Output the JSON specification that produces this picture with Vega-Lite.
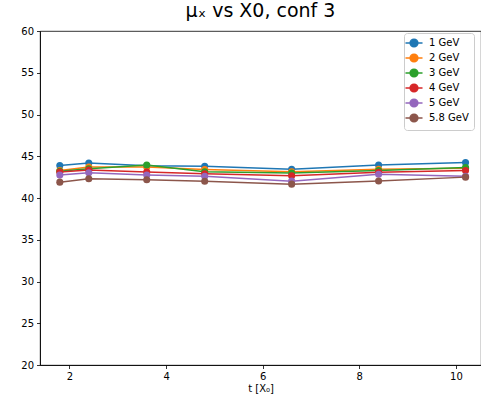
{
  "$schema": "https://vega.github.io/schema/vega-lite/v6.json",
  "autosize": "none",
  "width": 441,
  "height": 334,
  "padding": {"left": 40, "top": 31, "right": 0, "bottom": 33},
  "background": "white",
  "title": {"text": "μₓ vs X0, conf 3", "fontSize": 19, "font": "DejaVu Sans", "fontWeight": "normal", "color": "#000", "offset": 5, "anchor": "middle"},
  "config": {
    "view": {"stroke": "#000", "strokeWidth": 0.8},
    "axis": {"grid": false, "domainColor": "#000", "domainWidth": 0.8, "tickColor": "#000", "tickWidth": 0.8, "tickSize": 3.5, "labelFont": "DejaVu Sans", "labelFontSize": 10, "labelColor": "#000", "titleFont": "DejaVu Sans", "titleFontSize": 10, "titleFontWeight": "normal", "titleColor": "#000", "labelPadding": 3}
  },
  "data": {"values": [
    {"t": 1.8, "y": 43.9, "E": "1 GeV"}, {"t": 2.4, "y": 44.2, "E": "1 GeV"}, {"t": 3.6, "y": 43.85, "E": "1 GeV"}, {"t": 4.8, "y": 43.8, "E": "1 GeV"}, {"t": 6.6, "y": 43.45, "E": "1 GeV"}, {"t": 8.4, "y": 43.95, "E": "1 GeV"}, {"t": 10.2, "y": 44.25, "E": "1 GeV"},
    {"t": 1.8, "y": 43.3, "E": "2 GeV"}, {"t": 2.4, "y": 43.7, "E": "2 GeV"}, {"t": 3.6, "y": 43.7, "E": "2 GeV"}, {"t": 4.8, "y": 43.4, "E": "2 GeV"}, {"t": 6.6, "y": 43.15, "E": "2 GeV"}, {"t": 8.4, "y": 43.45, "E": "2 GeV"}, {"t": 10.2, "y": 43.55, "E": "2 GeV"},
    {"t": 1.8, "y": 43.2, "E": "3 GeV"}, {"t": 2.4, "y": 43.5, "E": "3 GeV"}, {"t": 3.6, "y": 43.95, "E": "3 GeV"}, {"t": 4.8, "y": 43.15, "E": "3 GeV"}, {"t": 6.6, "y": 43.0, "E": "3 GeV"}, {"t": 8.4, "y": 43.3, "E": "3 GeV"}, {"t": 10.2, "y": 43.65, "E": "3 GeV"},
    {"t": 1.8, "y": 43.1, "E": "4 GeV"}, {"t": 2.4, "y": 43.35, "E": "4 GeV"}, {"t": 3.6, "y": 43.1, "E": "4 GeV"}, {"t": 4.8, "y": 42.9, "E": "4 GeV"}, {"t": 6.6, "y": 42.67, "E": "4 GeV"}, {"t": 8.4, "y": 43.07, "E": "4 GeV"}, {"t": 10.2, "y": 43.3, "E": "4 GeV"},
    {"t": 1.8, "y": 42.75, "E": "5 GeV"}, {"t": 2.4, "y": 43.03, "E": "5 GeV"}, {"t": 3.6, "y": 42.75, "E": "5 GeV"}, {"t": 4.8, "y": 42.6, "E": "5 GeV"}, {"t": 6.6, "y": 42.02, "E": "5 GeV"}, {"t": 8.4, "y": 42.84, "E": "5 GeV"}, {"t": 10.2, "y": 42.6, "E": "5 GeV"},
    {"t": 1.8, "y": 41.9, "E": "5.8 GeV"}, {"t": 2.4, "y": 42.3, "E": "5.8 GeV"}, {"t": 3.6, "y": 42.18, "E": "5.8 GeV"}, {"t": 4.8, "y": 42.0, "E": "5.8 GeV"}, {"t": 6.6, "y": 41.66, "E": "5.8 GeV"}, {"t": 8.4, "y": 42.04, "E": "5.8 GeV"}, {"t": 10.2, "y": 42.5, "E": "5.8 GeV"}
  ]},
  "encoding": {
    "x": {"field": "t", "type": "quantitative", "scale": {"domain": [1.39, 10.52], "nice": false, "zero": false}, "axis": {"values": [2, 4, 6, 8, 10], "title": "t [X₀]", "titlePadding": 2}},
    "y": {"field": "y", "type": "quantitative", "scale": {"domain": [20, 60], "nice": false, "zero": false}, "axis": {"values": [20, 25, 30, 35, 40, 45, 50, 55, 60], "title": null}},
    "color": {"field": "E", "type": "nominal", "sort": ["1 GeV", "2 GeV", "3 GeV", "4 GeV", "5 GeV", "5.8 GeV"],
      "scale": {"range": ["#1f77b4", "#ff7f0e", "#2ca02c", "#d62728", "#9467bd", "#8c564b"]},
      "legend": {"title": null, "orient": "none", "legendX": 364, "legendY": 2, "labelFont": "DejaVu Sans", "labelFontSize": 10, "labelColor": "#000", "fillColor": "white", "strokeColor": "#ccc", "cornerRadius": 3, "padding": 5, "rowPadding": 1, "symbolSize": 60, "symbolType": "M-2.2,0L2.2,0M1,0A1,1 0 1,1 -1,0A1,1 0 1,1 1,0Z", "symbolStrokeWidth": 1.5, "labelOffset": 10}}
  },
  "layer": [
    {"mark": {"type": "line", "strokeWidth": 1.5}},
    {"mark": {"type": "circle", "size": 50, "opacity": 1}}
  ]
}
